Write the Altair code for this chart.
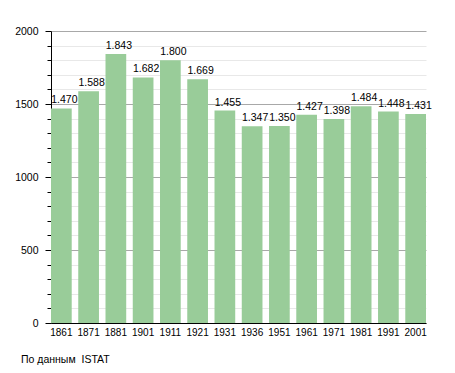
import altair as alt
import pandas as pd

years = ["1861", "1871", "1881", "1901", "1911", "1921", "1931", "1936", "1951", "1961", "1971", "1981", "1991", "2001"]
population = [1470, 1588, 1843, 1682, 1800, 1669, 1455, 1347, 1350, 1427, 1398, 1484, 1448, 1431]
y_ticks = [0, 100, 200, 300, 400, 500, 600, 700, 800, 900, 1000, 1100, 1200, 1300, 1400, 1500, 1600, 1700, 1800, 1900, 2000]
source_note = "По данным\u00a0 ISTAT"

df = pd.DataFrame({
    "year": years,
    "pop": population,
    "label": [f"{v:,}".replace(",", ".") for v in population],
})

FONT = "Liberation Sans"

x_enc = alt.X("year:N", sort=years, title=None,
              scale=alt.Scale(paddingInner=0.24, paddingOuter=0),
              axis=alt.Axis(labelAngle=0, ticks=False, labelPadding=4, domainColor="black",
                            labelFont=FONT, labelFontSize=10, labelColor="black"))
y_enc = alt.Y("pop:Q", title=None,
              scale=alt.Scale(domain=[0, 2000], nice=False),
              axis=alt.Axis(values=y_ticks,
                            labelExpr="datum.value % 500 === 0 ? datum.value : ''",
                            labelOverlap=False,
                            grid=True,
                            gridColor={"condition": {"test": "datum.value % 500 === 0", "value": "#a8a8a8"}, "value": "#e8e8e8"},
                            tickSize={"condition": {"test": "datum.value % 500 === 0", "value": 6}, "value": 4},
                            tickColor="black", domainColor="black",
                            labelPadding=7, labelFont=FONT, labelFontSize=10.5, labelColor="black"))

bars = alt.Chart(df).mark_bar(color="#99CC99").encode(x=x_enc, y=y_enc)
labels = alt.Chart(df).mark_text(baseline="alphabetic", align="center", dx=3, dy=-5,
                                 font=FONT, fontSize=10.5, color="black").encode(
    x=x_enc, y=y_enc, text="label:N")
note = alt.Chart(pd.DataFrame({"t": [source_note]})).mark_text(
    align="left", baseline="alphabetic", font=FONT, fontSize=10.5, color="black").encode(
    x=alt.value(-30), y=alt.value(332), text="t:N")

chart = alt.layer(bars, labels, note).properties(
    width=375, height=292,
    autosize=alt.AutoSizeParams(type="none"),
    padding={"left": 43, "top": 23, "right": 21, "bottom": 42},
).configure_view(stroke=None)

chart.save("out.html", embed_options={"renderer": "svg", "actions": False})
